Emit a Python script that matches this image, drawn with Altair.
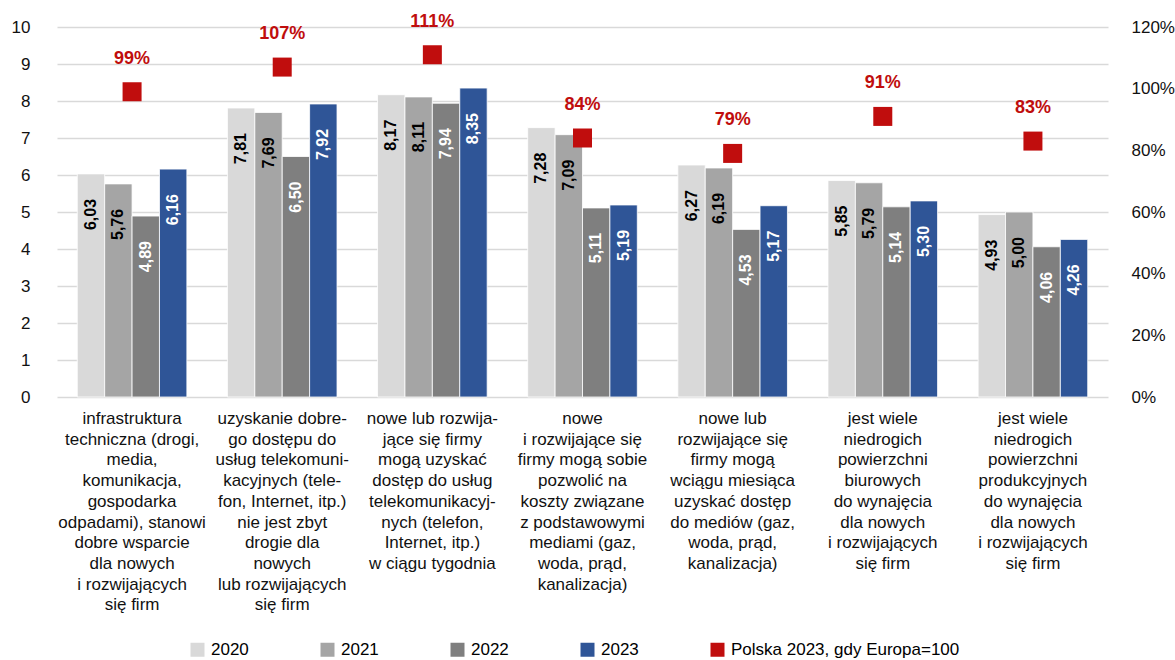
import altair as alt
import pandas as pd

# Survey categories (multi-line labels under each group)
categories = [
    "infrastruktura\ntechniczna (drogi,\nmedia,\nkomunikacja,\ngospodarka\nodpadami), stanowi\ndobre wsparcie\ndla nowych\ni rozwijających\nsię firm",
    "uzyskanie dobre-\ngo dostępu do\nusług telekomuni-\nkacyjnych (tele-\nfon, Internet, itp.)\nnie jest zbyt\ndrogie dla\nnowych\nlub rozwijających\nsię firm",
    "nowe lub rozwija-\njące się firmy\nmogą uzyskać\ndostęp do usług\ntelekomunikacyj-\nnych (telefon,\nInternet, itp.)\nw ciągu tygodnia",
    "nowe\ni rozwijające się\nfirmy mogą sobie\npozwolić na\nkoszty związane\nz podstawowymi\nmediami (gaz,\nwoda, prąd,\nkanalizacja)",
    "nowe lub\nrozwijające się\nfirmy mogą\nwciągu miesiąca\nuzyskać dostęp\ndo mediów (gaz,\nwoda, prąd,\nkanalizacja)",
    "jest wiele\nniedrogich\npowierzchni\nbiurowych\ndo wynajęcia\ndla nowych\ni rozwijających\nsię firm",
    "jest wiele\nniedrogich\npowierzchni\nprodukcyjnych\ndo wynajęcia\ndla nowych\ni rozwijających\nsię firm",
]

years = ["2020", "2021", "2022", "2023"]
values_2020 = [6.03, 7.81, 8.17, 7.28, 6.27, 5.85, 4.93]
values_2021 = [5.76, 7.69, 8.11, 7.09, 6.19, 5.79, 5.00]
values_2022 = [4.89, 6.50, 7.94, 5.11, 4.53, 5.14, 4.06]
values_2023 = [6.16, 7.92, 8.35, 5.19, 5.17, 5.30, 4.26]

# Poland 2023 as a percentage of the European level (Europe = 100)
poland_pct = [99, 107, 111, 84, 79, 91, 83]
poland_series = "Polska 2023, gdy Europa=100"

left_ticks = [0, 1, 2, 3, 4, 5, 6, 7, 8, 9, 10]
right_ticks = [0, 20, 40, 60, 80, 100, 120]

bar_colors = ["#d9d9d9", "#a5a5a5", "#7f7f7f", "#2f5597"]
red = "#c00d0d"
font = "Liberation Sans"

series_values = [values_2020, values_2021, values_2022, values_2023]
bars_df = pd.DataFrame(
    [
        {"category": c, "year": y, "value": v}
        for y, vals in zip(years, series_values)
        for c, v in zip(categories, vals)
    ]
)
pct_df = pd.DataFrame(
    {"category": categories, "pct": poland_pct, "series": poland_series}
)
cat_df = pd.DataFrame({"category": categories})

x_enc = alt.X(
    "category:N",
    sort=categories,
    scale=alt.Scale(paddingInner=0.27, paddingOuter=0.135),
    axis=None,
)
x_off = alt.XOffset("year:N", sort=years, scale=alt.Scale(paddingInner=0))

color_scale = alt.Scale(
    domain=years + [poland_series], range=bar_colors + [red]
)
legend = alt.Legend(
    title=None,
    orient="none",
    direction="horizontal",
    legendX=132,
    legendY=614,
    padding=0,
    symbolType="square",
    symbolSize=196,
    symbolStrokeWidth=0,
    symbolOpacity=1,
    labelFont=font,
    labelFontSize=17,
    labelColor="#000000",
    labelOffset=5,
    labelLimit=0,
    columnPadding=70,
)

left_axis = alt.Axis(
    values=left_ticks,
    title=None,
    orient="left",
    domain=False,
    ticks=False,
    grid=True,
    gridColor="#d9d9d9",
    gridWidth=1.5,
    labelOverlap=False,
    labelFont=font,
    labelFontSize=17,
    labelColor="#111111",
    labelPadding=27,
)
left_scale = alt.Scale(domain=[0, 10], nice=False)

bars = alt.Chart(bars_df).mark_bar(stroke="white", strokeWidth=0.8).encode(
    x=x_enc,
    xOffset=x_off,
    y=alt.Y("value:Q", scale=left_scale, axis=left_axis),
    color=alt.Color("year:N", scale=color_scale, legend=legend),
)

bar_labels = (
    alt.Chart(bars_df)
    .transform_calculate(lbl="replace(format(datum.value, '.2f'), '.', ',')")
    .mark_text(
        angle=270,
        align="right",
        baseline="middle",
        dx=-25,
        font=font,
        fontSize=16,
        fontWeight="bold",
    )
    .encode(
        x=x_enc,
        xOffset=x_off,
        y=alt.Y("value:Q", scale=left_scale, axis=left_axis),
        text="lbl:N",
        color=alt.condition(
            "datum.year == '2022' || datum.year == '2023'",
            alt.value("white"),
            alt.value("black"),
        ),
    )
)

cat_labels = alt.Chart(cat_df).mark_text(
    align="center",
    baseline="top",
    lineBreak="\n",
    lineHeight=20.7,
    font=font,
    fontSize=17,
    color="#111111",
).encode(
    x=x_enc,
    y=alt.value(384),
    text="category:N",
)

right_axis = alt.Axis(
    values=right_ticks,
    title=None,
    orient="right",
    domain=False,
    ticks=False,
    grid=False,
    labelOverlap=False,
    labelExpr="datum.value + '%'",
    labelFont=font,
    labelFontSize=17,
    labelColor="#111111",
    labelPadding=23,
)
right_scale = alt.Scale(domain=[0, 120], nice=False)

squares = alt.Chart(pct_df).mark_square(size=361, opacity=1).encode(
    x=x_enc,
    y=alt.Y("pct:Q", scale=right_scale, axis=right_axis),
    color=alt.Color("series:N", scale=color_scale, legend=legend),
)

pct_labels = (
    alt.Chart(pct_df)
    .transform_calculate(lbl="datum.pct + '%'")
    .mark_text(
        align="center",
        baseline="middle",
        dy=-33,
        font=font,
        fontSize=18,
        fontWeight="bold",
        color=red,
    )
    .encode(
        x=x_enc,
        y=alt.Y("pct:Q", scale=right_scale, axis=right_axis),
        text="lbl:N",
    )
)

left_layer = alt.layer(bars, bar_labels, cat_labels)
right_layer = alt.layer(squares, pct_labels)

chart = (
    alt.layer(left_layer, right_layer)
    .resolve_scale(y="independent")
    .properties(
        width=1051,
        height=370,
        autosize=alt.AutoSizeParams(type="none"),
        padding={"left": 57, "top": 27, "right": 67, "bottom": 263},
        background="white",
    )
    .configure_view(stroke=None)
)

chart.save("out.html", embed_options={"renderer": "svg", "actions": False})
